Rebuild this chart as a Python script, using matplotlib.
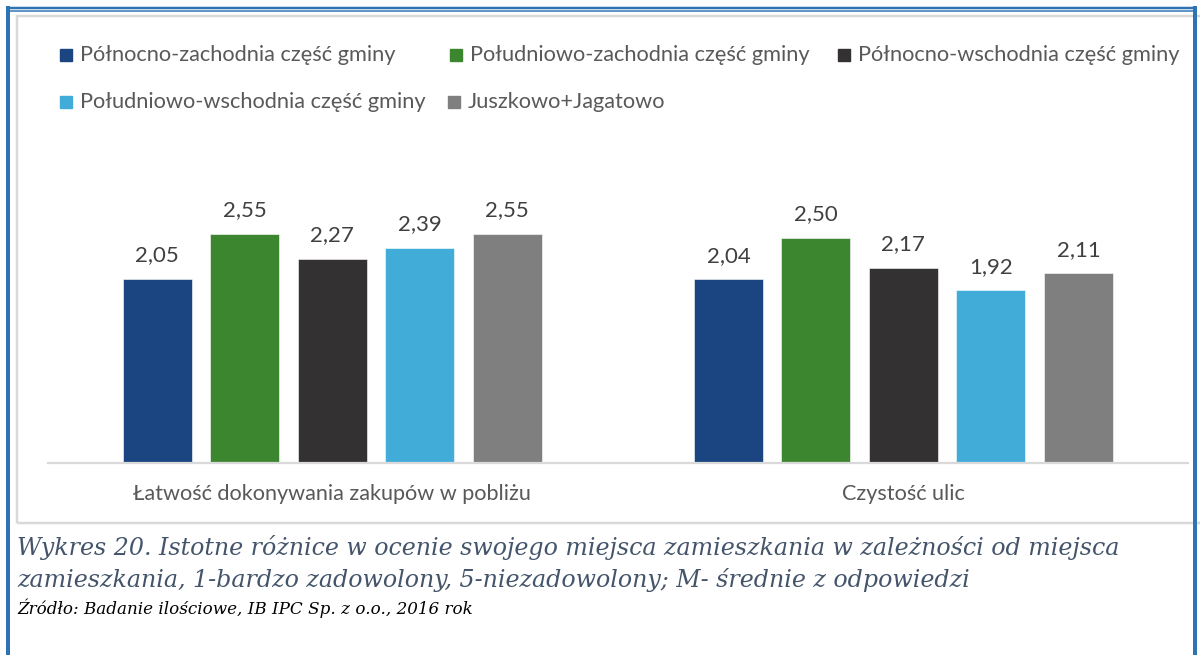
import matplotlib
matplotlib.use("Agg")
import matplotlib.pyplot as plt
from matplotlib.lines import Line2D
from matplotlib.patches import Rectangle
import numpy as np

categories = ["Łatwość dokonywania zakupów w pobliżu", "Czystość ulic"]
series_names = ["Północno-zachodnia część gminy", "Południowo-zachodnia część gminy",
                "Północno-wschodnia część gminy", "Południowo-wschodnia część gminy",
                "Juszkowo+Jagatowo"]
values = [
    [2.05, 2.04],
    [2.55, 2.50],
    [2.27, 2.17],
    [2.39, 1.92],
    [2.55, 2.11],
]
colors = ["#1b4580", "#3d8630", "#333132", "#41acd8", "#7f7f7f"]
caption_lines = ["Wykres 20. Istotne różnice w ocenie swojego miejsca zamieszkania w zależności od miejsca",
                 "zamieszkania, 1-bardzo zadowolony, 5-niezadowolony; M- średnie z odpowiedzi"]
source = "Źródło: Badanie ilościowe, IB IPC Sp. z o.o., 2016 rok"

W, H = 1200, 655
fig = plt.figure(figsize=(W / 100, H / 100), dpi=100)
fig.patch.set_facecolor("white")

def fx(x):
    return x / W

def fy(y):
    return 1 - y / H

def hline(x0, x1, y, color, lw):
    fig.add_artist(Line2D([fx(x0), fx(x1)], [fy(y), fy(y)], color=color, lw=lw * 0.72,
                          transform=fig.transFigure, solid_capstyle="butt"))

def vline(x, y0, y1, color, lw):
    fig.add_artist(Line2D([fx(x), fx(x)], [fy(y0), fy(y1)], color=color, lw=lw * 0.72,
                          transform=fig.transFigure, solid_capstyle="butt"))

# document page borders
blue = "#2e74b5"
hline(6, 1196.5, 7.5, blue, 2.5)
hline(10, 1193, 11, blue, 1.5)
vline(8, 6, 655, blue, 4)
vline(1195, 6, 655, blue, 4)
# chart frame
gray = "#d9d9d9"
frame = Rectangle((fx(17), fy(523)), fx(1210) - fx(17), fy(15.5) - fy(523), fill=False,
                  edgecolor=gray, lw=2.5 * 0.72, transform=fig.transFigure)
fig.add_artist(frame)

# axes
x0, x1 = 46.5, 1189
base, top = 463, 193
ax = fig.add_axes([fx(x0), fy(base), fx(x1) - fx(x0), (base - top) / H])
ax.set_xlim(-0.5, 1.5)
ax.set_ylim(0, 3)
unit = (x1 - x0) / 2
bw = 69 / unit
step = 87.5 / unit
xs = np.arange(len(categories))
font = "Lato"
for i, (name, vals, c) in enumerate(zip(series_names, values, colors)):
    pos = xs + (i - 2) * step
    ax.bar(pos, vals, width=bw, color=c, edgecolor="white", linewidth=0.4, label=name, zorder=2)
    for p, v in zip(pos, vals):
        ax.text(p, v + 0.15, f"{v:.2f}".replace(".", ","), ha="center", va="bottom",
                fontsize=16, color="#404040", family=font)

for s in ["top", "right", "left", "bottom"]:
    ax.spines[s].set_visible(False)
ax.plot([-0.5, 1.5], [0, 0], color=gray, lw=1.6, solid_capstyle="butt", zorder=3, clip_on=False)
ax.set_yticks([])
ax.set_xticks(xs)
ax.set_xticklabels(categories, fontsize=15.6, color="#595959", family=font)
ax.tick_params(axis="x", length=0, pad=15)
ax.patch.set_alpha(0)

# legend (manual layout)
legend_pos = [(60, 55), (450, 55), (838, 55), (60, 102), (448, 102)]
for (lx, ly), name, c in zip(legend_pos, series_names, colors):
    fig.add_artist(Rectangle((fx(lx), fy(ly + 6)), 12 / W, 12 / H, color=c, transform=fig.transFigure))
    fig.text(fx(lx + 20), fy(ly), name, fontsize=15.7, color="#595959", family=font,
             va="center", ha="left")

# caption
fig.text(fx(17), fy(548), caption_lines[0], fontsize=17.1, color="#44546a", family="DejaVu Serif",
         style="italic", va="center", ha="left")
fig.text(fx(17), fy(580), caption_lines[1], fontsize=17.1, color="#44546a", family="DejaVu Serif",
         style="italic", va="center", ha="left")
fig.text(fx(17), fy(608), source, fontsize=12.1, color="black", family="DejaVu Serif",
         style="italic", va="center", ha="left")

fig.savefig("out.png", dpi=100, facecolor="white")
